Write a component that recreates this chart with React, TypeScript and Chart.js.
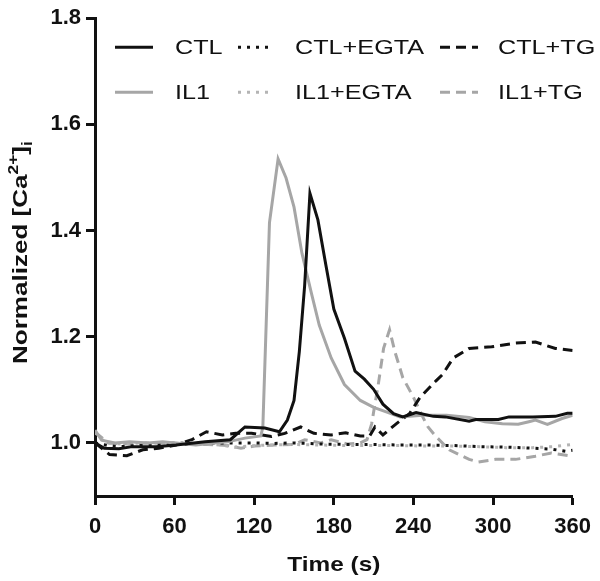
import React, { useEffect, useRef } from "react";
import { Chart, registerables } from "chart.js";

Chart.register(...registerables);

// ---- axis ticks ----
const xTicks = [0, 60, 120, 180, 240, 300, 360];
const yTicks = [1.0, 1.2, 1.4, 1.6, 1.8];
const xRange = [0, 360];
const yRange = [0.9, 1.8];

// ---- series data (time in s, normalized [Ca2+]i) ----
const ctlTime = [0, 7, 18, 28, 46, 61, 83, 102, 113, 128, 139, 145, 150, 154, 158, 162, 168, 174, 180, 188, 196, 203, 210, 217, 225, 232, 237, 242, 255, 264, 282, 287, 304, 312, 330, 347, 356, 360];
const ctlValues = [1.0, 0.99, 0.989, 0.993, 0.993, 0.996, 1.002, 1.006, 1.03, 1.028, 1.021, 1.043, 1.08, 1.172, 1.296, 1.47, 1.42, 1.335, 1.252, 1.197, 1.135, 1.12, 1.101, 1.073, 1.055, 1.049, 1.053, 1.057, 1.05, 1.049, 1.041, 1.044, 1.044, 1.049, 1.049, 1.05, 1.056, 1.056];

const il1Time = [0, 5, 15, 26, 40, 51, 64, 76, 90, 100, 113, 125, 126.5, 131.5, 138, 144, 150, 156, 163, 169, 178, 188, 200, 210, 220, 230, 247, 265, 282, 294, 307, 319, 327, 332, 341, 352, 360];
const il1Values = [1.024, 1.005, 1.0, 1.002, 1.0, 1.002, 0.999, 0.996, 1.0, 1.002, 1.009, 1.013, 1.03, 1.415, 1.535, 1.499, 1.444, 1.357, 1.283, 1.222, 1.16, 1.11, 1.08, 1.067, 1.058, 1.049, 1.052, 1.052, 1.048, 1.04, 1.036, 1.035, 1.04, 1.043, 1.035, 1.046, 1.052];

const ctlEgtaTime = [0, 10, 20, 30, 45, 60, 75, 90, 105, 120, 135, 150, 170, 190, 210, 230, 250, 270, 290, 310, 330, 345, 355, 360];
const ctlEgtaValues = [1.0, 0.995, 0.993, 0.995, 0.996, 0.997, 0.998, 1.0, 1.0, 1.0, 0.999, 1.0, 0.998, 0.997, 0.997, 0.996, 0.996, 0.995, 0.993, 0.992, 0.99, 0.988, 0.984, 0.986];

const il1EgtaTime = [0, 8, 20, 35, 50, 65, 80, 95, 105, 115, 130, 150, 170, 190, 210, 230, 250, 270, 290, 310, 330, 345, 360];
const il1EgtaValues = [1.02, 1.0, 0.998, 1.0, 1.0, 1.001, 0.999, 0.996, 0.992, 0.994, 0.996, 0.997, 0.996, 0.995, 0.995, 0.995, 0.994, 0.994, 0.993, 0.991, 0.991, 0.993, 0.997];

const ctlTgTime = [0, 11, 24, 36, 48, 61, 73, 84, 96, 106, 118, 133, 143, 155, 165, 178, 189, 200, 207, 211, 217, 227, 237, 245, 257, 262, 270, 282, 299, 317, 332, 347, 360];
const ctlTgValues = [1.0, 0.978, 0.976, 0.987, 0.99, 0.996, 1.006, 1.021, 1.015, 1.018, 1.018, 1.012, 1.018, 1.03, 1.018, 1.015, 1.019, 1.013, 1.013, 1.03, 1.015, 1.036, 1.055, 1.086, 1.117, 1.129, 1.16, 1.178, 1.181, 1.188, 1.19, 1.178, 1.174];

const il1TgTime = [0, 10, 25, 40, 55, 70, 85, 100, 110, 120, 135, 150, 158, 170, 178, 190, 200, 205, 208.5, 213.5, 217.5, 222, 226, 232, 240, 247, 251, 257, 267, 282, 289, 302, 317, 332, 344, 357];
const il1TgValues = [1.02, 1.0, 0.998, 1.0, 1.0, 0.998, 0.997, 0.995, 0.99, 0.994, 0.996, 0.997, 1.006, 1.0, 1.006, 0.998, 1.0, 1.006, 1.036, 1.11, 1.178, 1.213, 1.172, 1.123, 1.086, 1.049, 1.03, 1.012, 0.987, 0.969, 0.964, 0.969, 0.969, 0.975, 0.981, 0.976];

const BLACK = "#111111";
const GRAY = "#a6a6a6";
const LIGHT_GRAY = "#b4b4b4";
const FONT = '"Liberation Sans", Arial, Helvetica, sans-serif';

const pts = (t: number[], v: number[]) => t.map((x, i) => ({ x, y: v[i] }));

const seriesDefs = [
  { label: "CTL", t: ctlTime, v: ctlValues, color: BLACK, dash: [] as number[] },
  { label: "IL1", t: il1Time, v: il1Values, color: GRAY, dash: [] as number[] },
  { label: "CTL+EGTA", t: ctlEgtaTime, v: ctlEgtaValues, color: BLACK, dash: [3, 6] },
  { label: "IL1+EGTA", t: il1EgtaTime, v: il1EgtaValues, color: LIGHT_GRAY, dash: [3, 6] },
  { label: "CTL+TG", t: ctlTgTime, v: ctlTgValues, color: BLACK, dash: [10, 6] },
  { label: "IL1+TG", t: il1TgTime, v: il1TgValues, color: GRAY, dash: [10, 6] },
];

const decorPlugin = {
  id: "decor",
  afterDraw(chart: any) {
    const ctx: CanvasRenderingContext2D = chart.ctx;
    const { left, top, right } = chart.chartArea;

    // ---- legend: 3 columns x 2 rows ----
    const cols = [
      { s0: 20, s1: 58, tx: 80 },
      { s0: 143, s1: 177, tx: 200 },
      { s0: 345, s1: 383, tx: 403 },
    ];
    const rows = [29, 74];
    chart.data.datasets.forEach((ds: any, i: number) => {
      const c = cols[Math.floor(i / 2)];
      const ry = top + rows[i % 2];
      ctx.save();
      ctx.strokeStyle = ds.borderColor;
      ctx.lineWidth = ds.borderWidth;
      ctx.setLineDash(ds.borderDash || []);
      ctx.lineCap = "butt";
      ctx.beginPath();
      ctx.moveTo(left + c.s0, ry);
      ctx.lineTo(left + c.s1, ry);
      ctx.stroke();
      ctx.setLineDash([]);
      ctx.translate(left + c.tx, ry);
      ctx.scale(1.2, 1);
      ctx.fillStyle = "#111";
      ctx.font = `21px ${FONT}`;
      ctx.textAlign = "left";
      ctx.textBaseline = "middle";
      ctx.fillText(ds.label, 0, 1);
      ctx.restore();
    });

    // ---- x title ----
    ctx.save();
    ctx.translate((left + right) / 2, 571);
    ctx.scale(1.16, 1);
    ctx.font = `bold 21px ${FONT}`;
    ctx.fillStyle = "#111";
    ctx.textAlign = "center";
    ctx.textBaseline = "alphabetic";
    ctx.fillText("Time (s)", 0, 0);
    ctx.restore();

    // ---- y title with super/subscript ----
    ctx.save();
    ctx.translate(27, 364);
    ctx.rotate(-Math.PI / 2);
    ctx.scale(1.24, 1);
    ctx.fillStyle = "#111";
    ctx.textAlign = "left";
    ctx.textBaseline = "alphabetic";
    const big = `bold 21px ${FONT}`;
    const small = `bold 14px ${FONT}`;
    let cx = 0;
    ctx.font = big;
    ctx.fillText("Normalized [Ca", cx, 0);
    cx += ctx.measureText("Normalized [Ca").width;
    ctx.font = small;
    ctx.fillText("2+", cx, -9);
    cx += ctx.measureText("2+").width;
    ctx.font = big;
    ctx.fillText("]", cx, 0);
    cx += ctx.measureText("]").width;
    ctx.font = small;
    ctx.fillText("i", cx, 5);
    ctx.restore();
  },
};

export default function App() {
  const ref = useRef<HTMLCanvasElement | null>(null);

  useEffect(() => {
    document.body.style.margin = "0";
    if (!ref.current) return;
    const chart = new Chart(ref.current, {
      type: "line",
      data: {
        datasets: seriesDefs.map((s) => ({
          label: s.label,
          data: pts(s.t, s.v),
          borderColor: s.color,
          backgroundColor: s.color,
          borderWidth: 3,
          borderDash: s.dash,
          pointRadius: 0,
          tension: 0,
          fill: false,
        })),
      },
      options: {
        animation: false,
        responsive: false,
        layout: { padding: { left: 0, top: 13, right: 22, bottom: 0 } },
        plugins: { legend: { display: false }, tooltip: { enabled: false } },
        scales: {
          x: {
            type: "linear",
            min: xRange[0],
            max: xRange[1],
            afterBuildTicks: (scale: any) => {
              scale.ticks = xTicks.map((value) => ({ value }));
            },
            afterFit: (scale: any) => {
              scale.height = 85;
            },
            ticks: {
              autoSkip: false,
              maxRotation: 0,
              padding: 9,
              color: "#111",
              font: { family: FONT, size: 22, weight: "bold" },
              callback: (v: any) => String(v),
            },
            grid: { drawOnChartArea: false, drawTicks: true, tickLength: 9, tickWidth: 3, tickColor: "#111" },
            border: { display: true, color: "#111", width: 3 },
          },
          y: {
            type: "linear",
            min: yRange[0],
            max: yRange[1],
            afterBuildTicks: (scale: any) => {
              scale.ticks = yTicks.map((value) => ({ value }));
            },
            afterFit: (scale: any) => {
              scale.width = 95;
            },
            ticks: {
              padding: 5,
              color: "#111",
              font: { family: FONT, size: 22, weight: "bold" },
              callback: (v: any) => Number(v).toFixed(1),
            },
            grid: { drawOnChartArea: false, drawTicks: true, tickLength: 9, tickWidth: 3, tickColor: "#111" },
            border: { display: true, color: "#111", width: 3 },
          },
        },
      } as any,
      plugins: [decorPlugin],
    });
    return () => chart.destroy();
  }, []);

  return (
    <div style={{ width: 600, height: 581 }}>
      <canvas ref={ref} width={600} height={581} />
    </div>
  );
}
